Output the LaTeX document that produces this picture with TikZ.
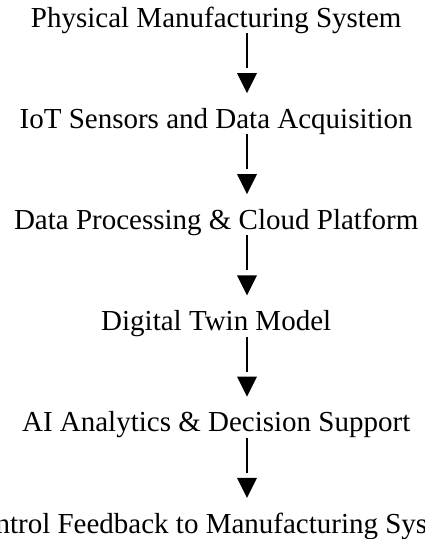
\documentclass[tikz,border=0pt]{standalone}
\usepackage{fontspec}
\setmainfont{Liberation Serif}
\usepackage{tikz}
\usetikzlibrary{calc}

\begin{document}
\begin{tikzpicture}[x=1pt, y=1pt,
    stage/.style={anchor=base, inner sep=0pt, font=\fontsize{29}{34}\selectfont},
    stem/.style={line width=1.6pt}]
	\useasboundingbox (0,0) rectangle (425,-539);
	\clip (0,0) rectangle (425,-539);
	% stages, top to bottom
	\node[stage] (phys) at (216.2,-27) {Physical Manufacturing System};
	\node[stage] (iot) at (216.2,-128.2) {IoT Sensors and Data Acquisition};
	\node[stage] (proc) at (216.2,-229.4) {Data Processing \& Cloud Platform};
	\node[stage] (twin) at (216.2,-330.6) {Digital Twin Model};
	\node[stage] (ai) at (216.2,-431.8) {AI Analytics \& Decision Support};
	\node[stage] (ctrl) at (216.2,-533) {Control Feedback to Manufacturing System};
	% arrows: stem, small gap, then the head
	\foreach \a/\b in {phys/iot, iot/proc, proc/twin, twin/ai, ai/ctrl} {
		\draw[stem] ($(\a.base)+(30.8,-6)$) -- ($(\b.base)+(30.8,60.2)$);
		\fill ($(\b.base)+(30.8,35.2)$) -- ++(-10,20) -- ++(20,0) -- cycle;
	}
\end{tikzpicture}
\end{document}
